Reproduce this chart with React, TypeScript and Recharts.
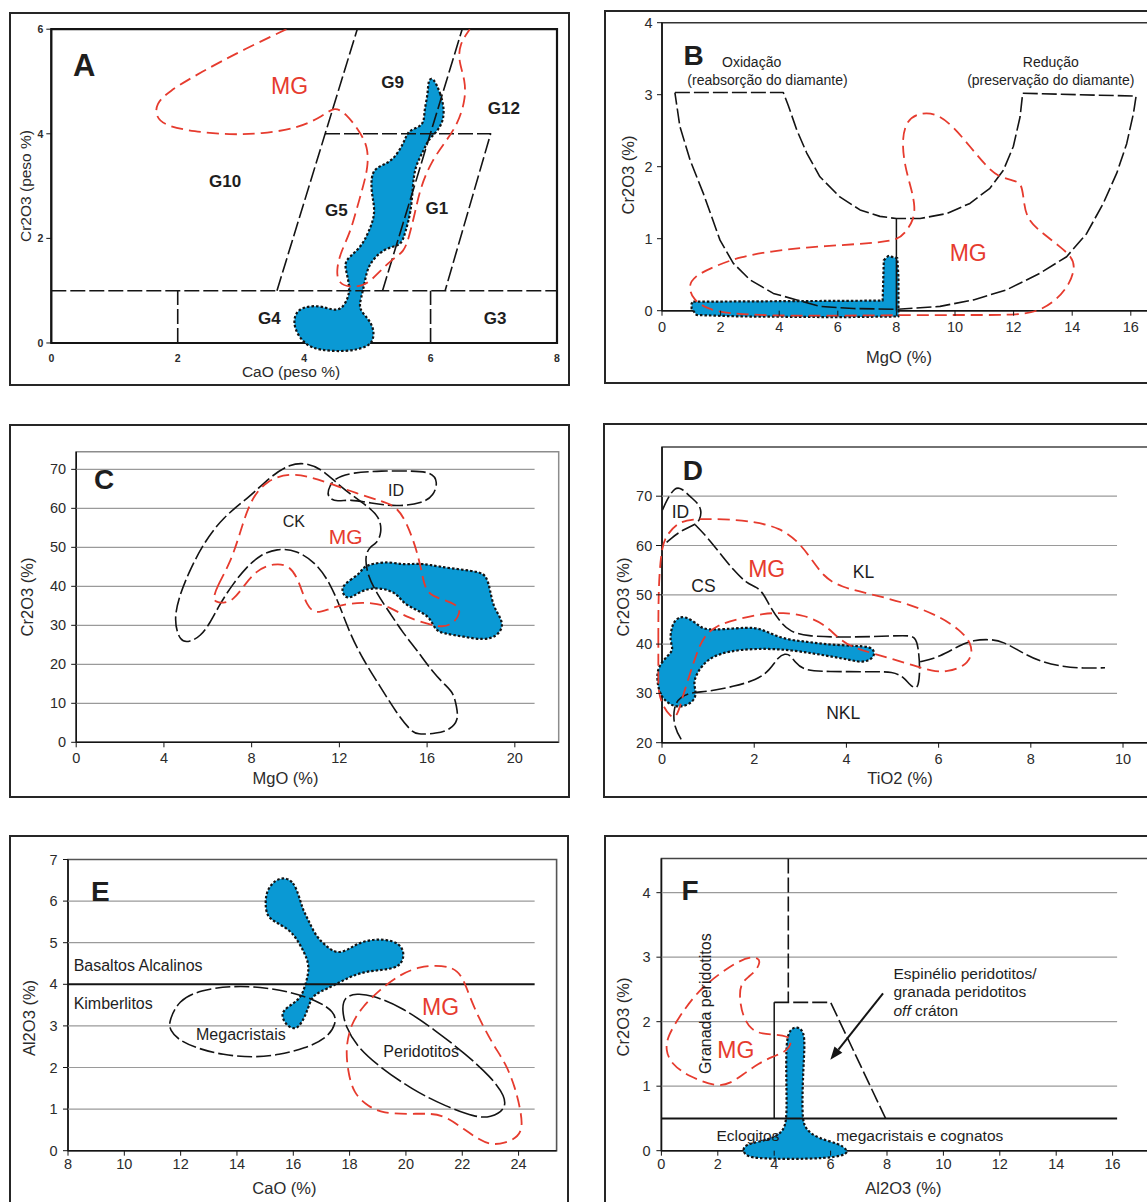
import React from 'react';
import { ScatterChart, Scatter, XAxis, YAxis, ReferenceLine, ReferenceArea } from 'recharts';

type XY = [number, number];
type CurveKind = 'basisClosed' | 'basis' | 'linear';
type StyleKey = 'blue' | 'dash' | 'longDash' | 'solid' | 'thick' | 'red' | 'grid' | 'arrow';

const FONT = '"Liberation Sans", Arial, Helvetica, sans-serif';
const BLUE = '#0a99d4';
const RED = '#e63b2e';
const INK = '#141414';
const TXT = '#2b2b2b';

// ---- A : CaO x Cr2O3 (peso %) ----
const A_X_TICKS = [0, 2, 4, 6, 8];
const A_Y_TICKS = [0, 2, 4, 6];
const A_BLUE: XY[] = [
  [6.04, 5.09], [6.16, 4.77], [6.22, 4.46], [6.19, 4.2], [6.07, 4.0], [5.96, 3.88], [5.9, 3.7], [5.75, 3.37],
  [5.72, 3.0], [5.69, 2.5], [5.6, 2.12], [5.54, 1.87], [5.37, 1.84], [5.19, 1.73], [5.01, 1.48], [4.96, 1.17],
  [4.9, 0.85], [4.86, 0.65], [5.02, 0.46], [5.1, 0.27], [5.1, 0.08], [5.02, -0.08], [4.66, -0.17], [4.25, -0.14],
  [4.01, -0.04], [3.84, 0.27], [3.84, 0.53], [3.96, 0.69], [4.25, 0.72], [4.46, 0.62], [4.6, 0.65], [4.69, 0.85],
  [4.72, 1.01], [4.69, 1.27], [4.63, 1.52], [4.72, 1.65], [4.9, 1.84], [5.01, 2.09], [5.14, 2.49], [5.06, 2.86],
  [5.06, 3.3], [5.24, 3.4], [5.41, 3.5], [5.58, 3.82], [5.64, 4.07], [5.84, 4.13], [5.9, 4.26], [5.9, 4.45],
  [5.96, 4.77], [5.96, 5.03],
];
const A_MG: XY[] = [
  [3.72, 6.0], [3.01, 5.59], [2.37, 5.18], [1.84, 4.8], [1.66, 4.57], [1.65, 4.35], [1.78, 4.16], [2.25, 4.04],
  [2.84, 3.98], [3.31, 4.0], [3.9, 4.1], [4.31, 4.35], [4.48, 4.52], [4.66, 4.39], [4.87, 4.06], [5.01, 3.75],
  [5.01, 3.36], [4.93, 2.98], [4.81, 2.47], [4.72, 2.09], [4.57, 1.71], [4.51, 1.39], [4.54, 1.13], [4.75, 1.06],
  [4.98, 1.1], [5.19, 1.36], [5.4, 1.61], [5.58, 1.74], [5.66, 2.03], [5.75, 2.47], [5.84, 2.98], [6.02, 3.49],
  [6.25, 3.87], [6.43, 4.19], [6.55, 4.64], [6.55, 5.02], [6.44, 5.4], [6.46, 5.72], [6.62, 6.0],
];
const A_Y1: XY[] = [[0, 1], [8, 1]];
const A_X2: XY[] = [[2, 0], [2, 1]];
const A_X6: XY[] = [[6, 0], [6, 1]];
const A_L1: XY[] = [[3.57, 1], [4.84, 6]];
const A_L2: XY[] = [[5.24, 1], [6.5, 6]];
const A_G1: XY[] = [[4.33, 4], [6.95, 4], [6.23, 1]];
const A_LABELS = [
  { text: 'A', x: 0.52, y: 5.3, kind: 'letterA' },
  { text: 'MG', x: 3.77, y: 4.92, kind: 'mg' },
  { text: 'G9', x: 5.4, y: 4.99, kind: 'g' },
  { text: 'G12', x: 7.16, y: 4.48, kind: 'g' },
  { text: 'G10', x: 2.75, y: 3.08, kind: 'g' },
  { text: 'G5', x: 4.51, y: 2.54, kind: 'g' },
  { text: 'G1', x: 6.1, y: 2.57, kind: 'g' },
  { text: 'G4', x: 3.45, y: 0.46, kind: 'g' },
  { text: 'G3', x: 7.02, y: 0.46, kind: 'g' },
];

// ---- B : MgO x Cr2O3 ----
const B_X_TICKS = [0, 2, 4, 6, 8, 10, 12, 14, 16];
const B_Y_TICKS = [0, 1, 2, 3, 4];
const B_BLACK: XY[] = [
  [0.44, 3.03], [4.14, 3.03], [4.31, 2.85], [4.6, 2.51], [4.94, 2.19], [5.39, 1.86], [6.07, 1.58], [6.76, 1.4],
  [7.44, 1.31], [8.0, 1.28], [8.81, 1.28], [9.72, 1.35], [10.51, 1.49], [11.19, 1.7], [11.65, 1.95], [11.99, 2.28],
  [12.22, 2.69], [12.31, 3.02], [16.18, 2.98], [16.09, 2.74], [15.86, 2.32], [15.52, 1.91], [15.06, 1.49],
  [14.49, 1.07], [13.81, 0.75], [12.9, 0.52], [11.76, 0.29], [10.63, 0.15], [9.49, 0.06], [8.0, 0.02],
  [6.53, 0.03], [5.39, 0.06], [4.6, 0.15], [3.8, 0.24], [3.0, 0.43], [2.43, 0.66], [1.98, 0.98], [1.41, 1.63],
  [0.96, 2.09], [0.61, 2.56],
];
const B_MID: XY[] = [[8, 0], [8, 1.28]];
const B_MG: XY[] = [
  [8.07, 0.98], [7.21, 0.94], [6.07, 0.91], [4.94, 0.88], [3.8, 0.83], [2.66, 0.75], [1.75, 0.61], [1.07, 0.47],
  [0.9, 0.33], [1.07, 0.15], [1.52, 0.03], [2.2, -0.04], [3.8, -0.07], [6.07, -0.07], [8.35, -0.06],
  [10.63, -0.06], [12.22, -0.06], [12.9, 0], [13.47, 0.15], [13.93, 0.38], [14.1, 0.61], [13.98, 0.75],
  [13.58, 0.89], [13.01, 1.07], [12.45, 1.26], [12.34, 1.54], [12.28, 1.77], [11.99, 1.81], [11.48, 1.86],
  [11.08, 2.0], [10.51, 2.28], [9.94, 2.56], [9.37, 2.74], [8.81, 2.75], [8.35, 2.65], [8.18, 2.37], [8.29, 2.0],
  [8.52, 1.68], [8.64, 1.44], [8.58, 1.26], [8.35, 1.11],
];
const B_BLUE: XY[] = [
  [1.07, 0.125], [7.53, 0.14], [7.57, 0.7], [7.72, 0.76], [8.03, 0.73], [8.07, 0.47], [8.07, -0.08],
  [6.07, -0.09], [2.66, -0.08], [1.18, -0.06], [1.01, 0.03], [1.01, 0.1],
];
const B_LABELS = [
  { text: 'B', x: 1.08, y: 3.55, kind: 'letter' },
  { text: 'Oxidação', x: 3.06, y: 3.46, kind: 'small' },
  { text: '(reabsorção do diamante)', x: 3.6, y: 3.2, kind: 'small' },
  { text: 'Redução', x: 13.27, y: 3.46, kind: 'small' },
  { text: '(preservação do diamante)', x: 13.27, y: 3.2, kind: 'small' },
  { text: 'MG', x: 10.45, y: 0.8, kind: 'mg' },
];

// ---- C : MgO x Cr2O3 ----
const C_X_TICKS = [0, 4, 8, 12, 16, 20];
const C_Y_TICKS = [0, 10, 20, 30, 40, 50, 60, 70];
const C_GRID = [10, 20, 30, 40, 50, 60, 70];
const C_CK: XY[] = [
  [4.43, 31.4], [4.74, 38.2], [5.19, 44.2], [5.8, 51.0], [6.71, 57.9], [7.93, 63.0], [8.84, 68.1], [9.75, 71.4],
  [10.51, 71.7], [11.27, 69.8], [12.03, 65.6], [13.09, 61.3], [13.86, 57.9], [13.93, 53.6], [13.7, 51.0],
  [13.4, 50.2], [13.17, 48.0], [13.25, 43.3], [13.7, 38.2], [14.31, 33.1], [14.92, 27.9], [15.53, 23.7],
  [16.29, 17.7], [16.9, 14.3], [17.2, 12.6], [17.35, 9.1], [17.43, 5.7], [17.05, 3.2], [16.44, 2.3], [15.53, 1.9],
  [15.22, 3.2], [14.62, 7.4], [13.86, 14.3], [13.09, 21.1], [12.48, 27.9], [12.03, 34.8], [11.57, 40.8],
  [10.96, 45.9], [10.05, 49.3], [9.14, 49.7], [8.38, 48.0], [7.78, 45.0], [7.17, 40.8], [6.56, 35.6], [6.1, 30.5],
  [5.65, 27.1], [5.19, 25.8], [4.74, 25.6],
];
const C_ID: XY[] = [
  [11.45, 64.5], [11.75, 67.8], [12.6, 69.2], [13.9, 69.6], [15.3, 69.6], [16.2, 69.3], [16.5, 66.8],
  [16.3, 63.3], [15.8, 61.3], [14.6, 60.4], [13.4, 61.4], [12.5, 62.3], [11.9, 61.7], [11.5, 62.6],
];
const C_MG: XY[] = [
  [6.25, 36.9], [6.41, 39.9], [7.02, 45.9], [7.47, 53.6], [7.93, 62.1], [8.69, 67.3], [9.75, 69.0], [10.66, 68.1],
  [11.57, 66.4], [12.79, 63.8], [14.0, 61.7], [14.62, 60.4], [15.08, 56.2], [15.53, 49.3], [15.77, 43.3],
  [15.95, 38.2], [16.6, 36.8], [17.35, 35.4], [17.55, 33.3], [17.2, 30.4], [16.7, 29.5], [16.1, 30.2],
  [15.0, 32.2], [14.3, 34.8], [13.5, 35.8], [12.5, 35.8], [11.5, 34.2], [10.96, 32.9], [10.51, 34.8],
  [10.2, 40.8], [9.75, 45.5], [8.99, 45.9], [8.23, 44.2], [7.62, 39.9], [7.17, 36.5], [6.71, 35.6], [6.33, 36.1],
];
const C_BLUE: XY[] = [
  [12.11, 39.9], [12.48, 41.6], [12.94, 43.3], [13.09, 45.0], [13.55, 45.9], [14.31, 46.3], [14.92, 45.5],
  [15.53, 45.9], [16.13, 45.5], [17.05, 44.6], [18.41, 43.8], [18.72, 42.5], [18.87, 39.1], [19.02, 34.8],
  [19.33, 32.2], [19.48, 29.7], [19.17, 27.1], [18.57, 26.2], [17.66, 27.1], [16.74, 27.9], [16.36, 28.8],
  [16.13, 32.2], [15.53, 33.9], [14.92, 35.6], [14.62, 38.2], [14.0, 39.5], [13.4, 39.5], [12.94, 38.6],
  [12.63, 37.4], [12.33, 36.9], [12.15, 38.2],
];
const C_LABELS = [
  { text: 'C', x: 1.27, y: 67.3, kind: 'letter' },
  { text: 'CK', x: 9.92, y: 56.6, kind: 'regionC' },
  { text: 'MG', x: 12.29, y: 52.9, kind: 'mgC' },
  { text: 'ID', x: 14.58, y: 64.7, kind: 'regionC' },
];

// ---- D : TiO2 x Cr2O3 ----
const D_X_TICKS = [0, 2, 4, 6, 8, 10];
const D_Y_TICKS = [20, 30, 40, 50, 60, 70];
const D_GRID = [30, 40, 50, 60, 70];
const D_ID: XY[] = [
  [0.01, 67.2], [0.1, 69.2], [0.28, 71.9], [0.43, 71.6], [0.61, 69.9], [0.79, 68.5], [0.86, 66.9], [0.82, 65.2],
  [0.72, 64.2], [0.45, 63.2], [0.2, 61.5], [0.01, 59.9],
];
const D_CS: XY[] = [
  [0.72, 64.2], [0.97, 61.8], [1.26, 58.4], [1.55, 55.0], [1.84, 52.3], [2.05, 51.6], [2.2, 50.3], [2.34, 47.6],
  [2.56, 44.5], [2.78, 42.5], [3.14, 41.6], [3.86, 41.4], [4.58, 41.5], [5.31, 41.8], [5.49, 41.5], [5.56, 39.5],
  [5.6, 34.7], [5.56, 31.4], [5.49, 31.0], [5.38, 31.7], [5.23, 33.4], [5.01, 34.4], [4.58, 34.4], [3.57, 34.4],
  [3.06, 34.7], [2.88, 36.4], [2.78, 37.8], [2.67, 38.1], [2.52, 37.4], [2.34, 34.7], [2.05, 32.7], [1.55, 31.4],
  [0.97, 30.3], [0.68, 30.3], [0.39, 29.3], [0.25, 27.3], [0.25, 23.2], [0.46, 20.0],
];
const D_TAIL: XY[] = [
  [5.6, 36.4], [6.03, 37.4], [6.46, 39.8], [6.75, 40.8], [7.12, 41.0], [7.4, 40.5], [7.77, 38.5], [8.2, 36.4],
  [8.71, 35.4], [9.14, 35.1], [9.61, 35.2],
];
const D_MG: XY[] = [
  [-0.08, 34.1], [-0.08, 40.8], [-0.08, 47.6], [-0.06, 54.3], [0, 59.8], [0.1, 62.1], [0.32, 64.5], [0.61, 65.4],
  [1.33, 65.4], [2.05, 64.8], [2.56, 63.5], [2.92, 61.1], [3.21, 57.7], [3.5, 53.7], [3.86, 51.6], [4.58, 50.0],
  [5.31, 48.3], [6.03, 45.6], [6.46, 42.9], [6.72, 40.1], [6.72, 37.4], [6.54, 35.4], [6.18, 34.4], [5.89, 34.4],
  [5.31, 36.1], [4.58, 38.1], [4.08, 39.5], [3.79, 41.5], [3.5, 44.2], [3.07, 45.9], [2.63, 46.4], [2.2, 46.2],
  [1.69, 45.2], [1.19, 43.9], [0.9, 41.5], [0.75, 38.1], [0.61, 34.1], [0.47, 30.0], [0.39, 27.3], [0.3, 25.0],
  [0.18, 25.3], [0.03, 27.3], [-0.08, 30.0],
];
const D_BLUE: XY[] = [
  [0.25, 44.5], [0.39, 45.7], [0.61, 45.2], [0.82, 43.5], [0.97, 42.9], [1.33, 43.0], [1.84, 43.4], [2.13, 43.2],
  [2.42, 41.8], [2.78, 40.8], [3.14, 40.5], [3.5, 40.0], [3.86, 39.8], [4.22, 39.6], [4.51, 39.5], [4.62, 38.5],
  [4.58, 37.1], [4.36, 36.2], [4.08, 36.8], [3.72, 37.4], [3.29, 38.1], [2.78, 38.8], [2.27, 39.1], [1.69, 38.9],
  [1.26, 38.1], [0.97, 36.8], [0.75, 34.1], [0.68, 32.0], [0.75, 30.0], [0.68, 28.3], [0.46, 27.3], [0.25, 27.3],
  [0.03, 28.7], [-0.08, 30.7], [-0.12, 34.1], [-0.03, 36.1], [0.14, 37.8], [0.25, 38.8], [0.17, 40.8], [0.2, 42.9],
];
const D_LABELS = [
  { text: 'D', x: 0.67, y: 75.3, kind: 'letter' },
  { text: 'ID', x: 0.4, y: 66.7, kind: 'region' },
  { text: 'CS', x: 0.9, y: 51.8, kind: 'region' },
  { text: 'MG', x: 2.27, y: 55.2, kind: 'mg' },
  { text: 'KL', x: 4.37, y: 54.7, kind: 'region' },
  { text: 'NKL', x: 3.93, y: 26.1, kind: 'region' },
];

// ---- E : CaO x Al2O3 ----
const E_X_TICKS = [8, 10, 12, 14, 16, 18, 20, 22, 24];
const E_Y_TICKS = [0, 1, 2, 3, 4, 5, 6, 7];
const E_GRID = [1, 2, 3, 5, 6];
const E_LINE4: XY[] = [[8, 4], [24.57, 4]];
const E_BLUE: XY[] = [
  [15.68, 6.57], [16.01, 6.47], [16.21, 6.11], [16.34, 5.79], [16.54, 5.54], [16.81, 5.14], [17.2, 4.9],
  [17.53, 4.74], [17.93, 4.82], [18.26, 4.98], [18.79, 5.08], [19.31, 5.08], [19.78, 4.98], [19.95, 4.74],
  [19.85, 4.5], [19.58, 4.38], [19.05, 4.34], [18.52, 4.3], [18.0, 4.18], [17.47, 3.98], [16.94, 3.82],
  [16.67, 3.7], [16.54, 3.46], [16.41, 3.22], [16.21, 2.98], [16.01, 2.92], [15.75, 3.02], [15.59, 3.22],
  [15.64, 3.38], [16.01, 3.54], [16.28, 3.7], [16.41, 3.94], [16.54, 4.26], [16.54, 4.5], [16.41, 4.74],
  [16.15, 5.06], [15.89, 5.3], [15.36, 5.5], [15.06, 5.63], [15.0, 5.95], [15.06, 6.27], [15.36, 6.51],
];
const E_MEGA: XY[] = [
  [11.58, 3.1], [11.92, 3.62], [12.71, 3.86], [13.77, 3.96], [14.82, 3.94], [15.88, 3.82], [16.81, 3.62],
  [17.47, 3.34], [17.53, 3.06], [17.2, 2.7], [16.41, 2.46], [15.49, 2.3], [14.56, 2.24], [13.5, 2.3],
  [12.58, 2.46], [11.92, 2.66], [11.62, 2.9],
];
const E_PERI: XY[] = [
  [17.8, 3.7], [18.26, 3.78], [18.79, 3.74], [19.84, 3.46], [21.03, 2.9], [22.09, 2.34], [23.01, 1.78],
  [23.54, 1.3], [23.52, 0.98], [23.01, 0.8], [22.48, 0.8], [21.43, 1.06], [20.24, 1.46], [19.05, 2.02],
  [18.26, 2.5], [17.86, 2.98], [17.73, 3.38],
];
const E_MG: XY[] = [
  [21.03, 4.46], [21.69, 4.41], [22.02, 4.18], [22.35, 3.54], [22.75, 2.98], [23.14, 2.5], [23.54, 2.1],
  [23.87, 1.54], [24.07, 0.98], [24.14, 0.58], [24.0, 0.34], [23.54, 0.18], [23.01, 0.14], [22.62, 0.26],
  [22.09, 0.5], [21.43, 0.82], [20.9, 0.9], [20.11, 0.88], [19.19, 0.9], [18.66, 1.06], [18.13, 1.38],
  [17.93, 1.94], [17.86, 2.5], [18.06, 3.06], [18.46, 3.46], [19.05, 3.86], [19.84, 4.26], [20.5, 4.42],
];
const E_LABELS = [
  { text: 'E', x: 9.15, y: 6.23, kind: 'letter' },
  { text: 'Basaltos Alcalinos', x: 8.2, y: 4.45, kind: 'noteE' },
  { text: 'Kimberlitos', x: 8.2, y: 3.54, kind: 'noteE' },
  { text: 'Megacristais', x: 14.14, y: 2.8, kind: 'noteEmid' },
  { text: 'Peridotitos', x: 20.54, y: 2.38, kind: 'noteEmid' },
  { text: 'MG', x: 21.23, y: 3.46, kind: 'mg' },
];

// ---- F : Al2O3 x Cr2O3 ----
const F_X_TICKS = [0, 2, 4, 6, 8, 10, 12, 14, 16];
const F_Y_TICKS = [0, 1, 2, 3, 4];
const F_GRID = [1, 2, 3, 4];
const F_LINE05: XY[] = [[0, 0.5], [16.16, 0.5]];
const F_V45: XY[] = [[4.5, 4.53], [4.5, 2.3]];
const F_V40: XY[] = [[4.0, 0.5], [4.0, 2.3]];
const F_STEP: XY[] = [[4.0, 2.3], [6.0, 2.3], [7.95, 0.5]];
const F_ARROW: XY[] = [[7.86, 2.44], [5.99, 1.41]];
const F_BLUE: XY[] = [
  [4.81, 1.93], [5.06, 1.85], [5.08, 1.61], [5.03, 1.25], [5.0, 0.84], [5.0, 0.48], [5.13, 0.32], [5.56, 0.19],
  [6.3, 0.11], [6.61, 0.01], [6.55, -0.07], [5.8, -0.12], [4.56, -0.13], [3.32, -0.12], [2.95, -0.07],
  [2.88, 0.04], [3.07, 0.11], [3.82, 0.17], [4.25, 0.27], [4.44, 0.42], [4.44, 0.84], [4.42, 1.35], [4.44, 1.72],
  [4.56, 1.88],
];
const F_MG: XY[] = [
  [3.44, 2.98], [3.19, 3.01], [2.7, 2.93], [2.08, 2.75], [1.33, 2.49], [0.71, 2.13], [0.21, 1.77], [0.15, 1.56],
  [0.34, 1.35], [0.96, 1.15], [1.95, 0.99], [2.45, 1.04], [2.95, 1.2], [3.44, 1.35], [3.94, 1.46], [4.31, 1.51],
  [4.56, 1.61], [4.61, 1.72], [4.48, 1.77], [4.07, 1.8], [3.57, 1.81], [3.19, 1.87], [2.88, 2.08], [2.76, 2.39],
  [2.82, 2.59], [3.07, 2.69], [3.38, 2.8], [3.5, 2.93],
];
const F_LABELS = [
  { text: 'F', x: 1.02, y: 4.04, kind: 'letter' },
  { text: 'Granada peridotitos', x: 1.58, y: 2.28, kind: 'vnote' },
  { text: 'MG', x: 2.64, y: 1.56, kind: 'mg' },
  { text: 'Espinélio peridotitos/', x: 8.23, y: 2.75, kind: 'noteStart' },
  { text: 'granada peridotitos', x: 8.23, y: 2.47, kind: 'noteStart' },
  { text: 'off cráton', x: 8.23, y: 2.18, kind: 'noteStart' },
  { text: 'Eclogitos', x: 3.07, y: 0.24, kind: 'note' },
  { text: 'megacristais e cognatos', x: 9.16, y: 0.24, kind: 'note' },
];

const STYLES: Record<string, any> = {
  blue: { fill: BLUE, stroke: INK, strokeWidth: 2.2, strokeDasharray: '2.5 2' },
  dash: { fill: 'none', stroke: INK, strokeWidth: 1.6, strokeDasharray: '15 4' },
  longDash: { fill: 'none', stroke: INK, strokeWidth: 1.6, strokeDasharray: '24 4' },
  solid: { fill: 'none', stroke: INK, strokeWidth: 1.5 },
  thick: { fill: 'none', stroke: INK, strokeWidth: 2 },
  red: { fill: 'none', stroke: RED, strokeWidth: 1.8, strokeDasharray: '12 6' },
  grid: { fill: 'none', stroke: '#9a9a9a', strokeWidth: 1.2 },
};

const LABEL_STYLE: Record<string, { size: number; weight?: number; color?: string; start?: boolean; rotate?: boolean }> = {
  letterA: { size: 31, weight: 700 },
  letter: { size: 28, weight: 700 },
  g: { size: 17, weight: 700 },
  mg: { size: 23, color: RED },
  mgC: { size: 21, color: RED },
  small: { size: 14 },
  region: { size: 17.5 },
  regionC: { size: 16 },
  note: { size: 15.5 },
  noteStart: { size: 15.5, start: true },
  noteE: { size: 16, start: true },
  noteEmid: { size: 16 },
  vnote: { size: 16, rotate: true },
};

type Series = { pts: XY[]; style: StyleKey; curve: CurveKind; close?: boolean };
type Box = { l: number; t: number; r: number; b: number };
type PanelCfg = {
  frame: Box; plot: Box;
  xDom: [number, number]; yDom: [number, number];
  xTicks: number[]; yTicks: number[];
  axisX0: number; axisY0: number;
  xGap: number; xMark: number; yGap: number; yMark: number;
  tickSize: number; tickWeight: number;
  box: [number, number, number, number]; boxStroke: string; boxWidth: number;
  grid?: { ys: number[]; x0: number; x1: number };
  series: Series[];
  labels: { text: string; x: number; y: number; kind: string }[];
  xTitle: { text: string; x: number; y: number };
  yTitle: { text: string; x: number; y: number };
  titleSize: number;
};

const PANELS: PanelCfg[] = [
  {
    frame: { l: 10, t: 13, r: 569, b: 385 }, plot: { l: 51.3, t: 29.2, r: 557, b: 363.9 },
    xDom: [0, 8], yDom: [-0.4, 6], xTicks: A_X_TICKS, yTicks: A_Y_TICKS, axisX0: 0, axisY0: 0,
    xGap: 15, xMark: 0, yGap: 8, yMark: 5, tickSize: 10.5, tickWeight: 700,
    box: [0, 8, 0, 6], boxStroke: INK, boxWidth: 2.2,
    series: [
      { pts: A_BLUE, style: 'blue', curve: 'basisClosed' },
      { pts: A_Y1, style: 'dash', curve: 'linear' },
      { pts: A_X2, style: 'dash', curve: 'linear' },
      { pts: A_X6, style: 'dash', curve: 'linear' },
      { pts: A_L1, style: 'dash', curve: 'linear' },
      { pts: A_L2, style: 'dash', curve: 'linear' },
      { pts: A_G1, style: 'dash', curve: 'linear' },
      { pts: A_MG, style: 'red', curve: 'basis' },
    ],
    labels: A_LABELS,
    xTitle: { text: 'CaO (peso %)', x: 291, y: 372 }, yTitle: { text: 'Cr2O3 (peso %)', x: 26, y: 186 }, titleSize: 15.5,
  },
  {
    frame: { l: 605, t: 11, r: 1170, b: 383 }, plot: { l: 662, t: 22.7, r: 1160.1, b: 328.7 },
    xDom: [0, 17], yDom: [-0.25, 4], xTicks: B_X_TICKS, yTicks: B_Y_TICKS, axisX0: 0, axisY0: 0,
    xGap: 16, xMark: 5, yGap: 9.5, yMark: 5, tickSize: 14.5, tickWeight: 400,
    box: [0, 17, 0, 4], boxStroke: '#333', boxWidth: 1.5,
    series: [
      { pts: B_BLUE, style: 'blue', curve: 'linear', close: true },
      { pts: B_BLACK, style: 'dash', curve: 'linear', close: true },
      { pts: B_MID, style: 'solid', curve: 'linear' },
      { pts: B_MG, style: 'red', curve: 'basisClosed' },
    ],
    labels: B_LABELS,
    xTitle: { text: 'MgO (%)', x: 899, y: 357 }, yTitle: { text: 'Cr2O3 (%)', x: 627.6, y: 175 }, titleSize: 16.5,
  },
  {
    frame: { l: 10, t: 425, r: 569, b: 797 }, plot: { l: 76.2, t: 451.8, r: 558.7, b: 742.3 },
    xDom: [0, 22], yDom: [0, 74.5], xTicks: C_X_TICKS, yTicks: C_Y_TICKS, axisX0: 0, axisY0: 0,
    xGap: 16, xMark: 5, yGap: 10, yMark: 5, tickSize: 14.5, tickWeight: 400,
    box: [0, 22, 0, 74.5], boxStroke: '#8c8c8c', boxWidth: 1.5,
    grid: { ys: C_GRID, x0: 0, x1: 20.9 },
    series: [
      { pts: C_BLUE, style: 'blue', curve: 'basisClosed' },
      { pts: C_CK, style: 'dash', curve: 'basisClosed' },
      { pts: C_ID, style: 'dash', curve: 'basisClosed' },
      { pts: C_MG, style: 'red', curve: 'basisClosed' },
    ],
    labels: C_LABELS,
    xTitle: { text: 'MgO (%)', x: 285.5, y: 778.3 }, yTitle: { text: 'Cr2O3 (%)', x: 27, y: 596.7 }, titleSize: 16.5,
  },
  {
    frame: { l: 604, t: 424, r: 1170, b: 797 }, plot: { l: 652.8, t: 446.9, r: 1159.9, b: 742.7 },
    xDom: [-0.2, 10.8], yDom: [20, 80], xTicks: D_X_TICKS, yTicks: D_Y_TICKS, axisX0: 0, axisY0: 20,
    xGap: 16.6, xMark: 5, yGap: 9.8, yMark: 6, tickSize: 14.5, tickWeight: 400,
    box: [0, 10.8, 20, 80], boxStroke: '#444', boxWidth: 1.5,
    grid: { ys: D_GRID, x0: 0, x1: 9.87 },
    series: [
      { pts: D_BLUE, style: 'blue', curve: 'basisClosed' },
      { pts: D_ID, style: 'dash', curve: 'basis' },
      { pts: D_CS, style: 'dash', curve: 'basis' },
      { pts: D_TAIL, style: 'dash', curve: 'basis' },
      { pts: D_MG, style: 'red', curve: 'basisClosed' },
    ],
    labels: D_LABELS,
    xTitle: { text: 'TiO2 (%)', x: 900, y: 778.3 }, yTitle: { text: 'Cr2O3 (%)', x: 623, y: 596.7 }, titleSize: 16.5,
  },
  {
    frame: { l: 10, t: 836, r: 568, b: 1215 }, plot: { l: 68, t: 859.5, r: 556.6, b: 1150.7 },
    xDom: [8, 25.35], yDom: [0, 7], xTicks: E_X_TICKS, yTicks: E_Y_TICKS, axisX0: 8, axisY0: 0,
    xGap: 13, xMark: 5, yGap: 10.4, yMark: 5, tickSize: 14.5, tickWeight: 400,
    box: [8, 25.35, 0, 7], boxStroke: '#555', boxWidth: 1.6,
    grid: { ys: E_GRID, x0: 8, x1: 24.57 },
    series: [
      { pts: E_BLUE, style: 'blue', curve: 'basisClosed' },
      { pts: E_LINE4, style: 'thick', curve: 'linear' },
      { pts: E_MEGA, style: 'dash', curve: 'basisClosed' },
      { pts: E_PERI, style: 'longDash', curve: 'basisClosed' },
      { pts: E_MG, style: 'red', curve: 'basisClosed' },
    ],
    labels: E_LABELS,
    xTitle: { text: 'CaO (%)', x: 284.4, y: 1188.3 }, yTitle: { text: 'Al2O3 (%)', x: 28.5, y: 1018 }, titleSize: 16.5,
  },
  {
    frame: { l: 605, t: 836, r: 1170, b: 1215 }, plot: { l: 661.4, t: 858.5, r: 1154.9, b: 1166.8 },
    xDom: [0, 17.5], yDom: [-0.25, 4.53], xTicks: F_X_TICKS, yTicks: F_Y_TICKS, axisX0: 0, axisY0: 0,
    xGap: 13.6, xMark: 5, yGap: 10.9, yMark: 5, tickSize: 14.5, tickWeight: 400,
    box: [0, 17.5, 0, 4.53], boxStroke: '#444', boxWidth: 1.5,
    grid: { ys: F_GRID, x0: 0, x1: 16.16 },
    series: [
      { pts: F_BLUE, style: 'blue', curve: 'basisClosed' },
      { pts: F_LINE05, style: 'thick', curve: 'linear' },
      { pts: F_V45, style: 'dash', curve: 'linear' },
      { pts: F_V40, style: 'solid', curve: 'linear' },
      { pts: F_STEP, style: 'dash', curve: 'linear' },
      { pts: F_MG, style: 'red', curve: 'basisClosed' },
      { pts: F_ARROW, style: 'arrow', curve: 'linear' },
    ],
    labels: F_LABELS,
    xTitle: { text: 'Al2O3 (%)', x: 903.4, y: 1188.3 }, yTitle: { text: 'Cr2O3 (%)', x: 623, y: 1016.7 }, titleSize: 16.5,
  },
];

const toPts = (arr: XY[], close = false) => {
  const pts = arr.map(([x, y]) => ({ x, y }));
  return close ? [...pts, pts[0]] : pts;
};

const noDot = () => <g />;

const arrowLine = (p: any) => {
  const pts = p.points || [];
  if (pts.length < 2) return <g />;
  const a = pts[0];
  const b = pts[pts.length - 1];
  const ang = Math.atan2(b.y - a.y, b.x - a.x);
  const len = 13;
  const half = 5;
  const cx = b.x - len * Math.cos(ang);
  const cy = b.y - len * Math.sin(ang);
  const nx = -Math.sin(ang);
  const ny = Math.cos(ang);
  return (
    <g>
      <line x1={a.x} y1={a.y} x2={cx} y2={cy} stroke={INK} strokeWidth={2} />
      <polygon points={`${b.x},${b.y} ${cx + nx * half},${cy + ny * half} ${cx - nx * half},${cy - ny * half}`} fill={INK} />
    </g>
  );
};

const LabelShape = (p: any) => {
  const { text, kind } = p.payload;
  const s = LABEL_STYLE[kind];
  const common = {
    fontFamily: FONT, fontSize: s.size, fontWeight: s.weight ?? 400, fill: s.color ?? '#1e1e1e',
    dominantBaseline: 'central' as const,
  };
  if (s.rotate) {
    return <text transform={`translate(${p.cx},${p.cy}) rotate(-90)`} textAnchor="middle" {...common}>{text}</text>;
  }
  const anchor = s.start ? 'start' : 'middle';
  if (text.startsWith('off ')) {
    return (
      <text x={p.cx} y={p.cy} textAnchor={anchor} {...common}>
        <tspan fontStyle="italic">off</tspan>{text.slice(3)}
      </text>
    );
  }
  return <text x={p.cx} y={p.cy} textAnchor={anchor} {...common}>{text}</text>;
};

function Panel({ c }: { c: PanelCfg }) {
  const W = c.frame.r - c.frame.l;
  const H = c.frame.b - c.frame.t;
  const pw = c.plot.r - c.plot.l;
  const ph = c.plot.b - c.plot.t;
  const xShift = ((c.axisY0 - c.yDom[0]) / (c.yDom[1] - c.yDom[0])) * ph;
  const yShift = ((c.axisX0 - c.xDom[0]) / (c.xDom[1] - c.xDom[0])) * pw;
  const margin = {
    top: c.plot.t - c.frame.t,
    right: c.frame.r - c.plot.r,
    bottom: c.frame.b - c.plot.b - 1,
    left: c.plot.l - c.frame.l - 1,
  };
  const tickText = { fontFamily: FONT, fontSize: c.tickSize, fontWeight: c.tickWeight, fill: TXT };

  const xTick = (p: any) => {
    const ay = p.y - xShift;
    return (
      <g>
        {c.xMark > 0 && <line x1={p.x} x2={p.x} y1={ay} y2={ay + c.xMark} stroke={INK} strokeWidth={1} />}
        <text x={p.x} y={ay + c.xGap} textAnchor="middle" dominantBaseline="central" {...tickText}>{p.payload.value}</text>
      </g>
    );
  };
  const yTick = (p: any) => {
    const ax = p.x + yShift;
    return (
      <g>
        <line x1={ax - c.yMark} x2={ax} y1={p.y} y2={p.y} stroke={INK} strokeWidth={1} />
        <text x={ax - c.yGap} y={p.y} textAnchor="end" dominantBaseline="central" {...tickText}>{p.payload.value}</text>
      </g>
    );
  };

  const gridSeries: Series[] = (c.grid?.ys ?? []).map((g) => ({
    pts: [[c.grid!.x0, g], [c.grid!.x1, g]] as XY[], style: 'grid', curve: 'linear',
  }));
  const all = [...gridSeries, ...c.series];
  const titleFont = { fontFamily: FONT, fontSize: c.titleSize, color: TXT, lineHeight: 1, whiteSpace: 'nowrap' as const };

  return (
    <>
      <div style={{
        position: 'absolute', left: c.frame.l - 1, top: c.frame.t - 1, width: W + 2, height: H + 2,
        border: '2px solid #262626', boxSizing: 'border-box',
      }} />
      <div style={{ position: 'absolute', left: c.frame.l, top: c.frame.t }}>
        <ScatterChart width={W} height={H} margin={margin}>
          <XAxis type="number" dataKey="x" domain={c.xDom} ticks={c.xTicks} allowDataOverflow axisLine={false}
            tickLine={false} tickSize={0} tickMargin={0} height={1} interval={0} tick={xTick} />
          <YAxis type="number" dataKey="y" domain={c.yDom} ticks={c.yTicks} allowDataOverflow axisLine={false}
            tickLine={false} tickSize={0} tickMargin={0} width={1} interval={0} tick={yTick} />
          {all.map((s, i) => (
            <Scatter key={i} data={toPts(s.pts, s.curve === 'linear' && !!s.close)} shape={noDot}
              line={s.style === 'arrow' ? arrowLine : { ...STYLES[s.style], strokeLinejoin: 'round' }}
              lineJointType={s.curve} isAnimationActive={false} />
          ))}
          <ReferenceArea x1={c.box[0]} x2={c.box[1]} y1={c.box[2]} y2={c.box[3]} fill="none" fillOpacity={0}
            stroke={c.boxStroke} strokeWidth={c.boxWidth} ifOverflow="visible" />
          <ReferenceLine segment={[{ x: c.axisX0, y: c.axisY0 }, { x: c.axisX0, y: c.yDom[1] }]} stroke={INK}
            strokeWidth={1.6} ifOverflow="visible" />
          <ReferenceLine segment={[{ x: c.axisX0, y: c.axisY0 }, { x: c.xDom[1], y: c.axisY0 }]} stroke={INK}
            strokeWidth={1.6} ifOverflow="visible" />
          <Scatter data={c.labels} shape={LabelShape} isAnimationActive={false} />
        </ScatterChart>
      </div>
      <div style={{ position: 'absolute', left: c.xTitle.x, top: c.xTitle.y, transform: 'translate(-50%, -50%)', ...titleFont }}>
        {c.xTitle.text}
      </div>
      <div style={{ position: 'absolute', left: c.yTitle.x, top: c.yTitle.y, transform: 'translate(-50%, -50%) rotate(-90deg)', ...titleFont }}>
        {c.yTitle.text}
      </div>
    </>
  );
}

export default function App() {
  return (
    <div style={{
      position: 'absolute', left: 0, top: 0, width: 1147, height: 1202, overflow: 'hidden', background: '#fff',
      fontFamily: FONT,
    }}>
      {PANELS.map((c, i) => <Panel key={i} c={c} />)}
    </div>
  );
}
